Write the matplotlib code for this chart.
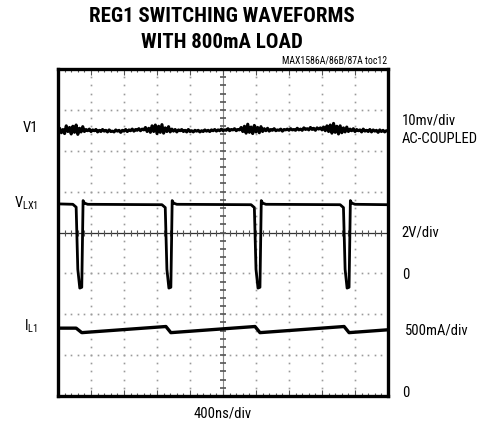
import numpy as np
import matplotlib
matplotlib.use("Agg")
import matplotlib.pyplot as plt

# ---------------- data (in screen divisions: x 0..10, y 0..8) ----------------
title_lines = ["REG1 SWITCHING WAVEFORMS", "WITH 800mA LOAD"]
part_label = "MAX1586A/86B/87A toc12"
x_label = "400ns/div"
left_labels = ["V1", "V$_{\\mathregular{LX1}}$", "I$_{\\mathregular{L1}}$"]
left_label_y = [6.55, 4.72, 1.72]
right_labels = ["10mv/div", "AC-COUPLED", "2V/div", "0", "500mA/div", "0"]
right_label_x = [10.42, 10.42, 10.42, 10.42, 10.5, 10.42]
right_label_y = [6.75, 6.28, 4.0, 2.97, 1.6, 0.08]

v1_x = np.linspace(0, 10, 201)
v1_y = [6.47, 6.55, 6.44, 6.52, 6.42, 6.61, 6.47, 6.57, 6.41, 6.60,
        6.45, 6.63, 6.40, 6.55, 6.46, 6.59, 6.47, 6.52, 6.49, 6.53,
        6.47, 6.51, 6.49, 6.52, 6.46, 6.50, 6.47, 6.52, 6.48, 6.50,
        6.46, 6.51, 6.47, 6.48, 6.46, 6.51, 6.48, 6.50, 6.45, 6.50,
        6.48, 6.52, 6.47, 6.51, 6.49, 6.53, 6.48, 6.52, 6.50, 6.54,
        6.49, 6.53, 6.51, 6.57, 6.47, 6.55, 6.45, 6.61, 6.47, 6.63,
        6.42, 6.60, 6.45, 6.64, 6.43, 6.56, 6.47, 6.59, 6.46, 6.53,
        6.48, 6.52, 6.46, 6.51, 6.49, 6.52, 6.47, 6.50, 6.46, 6.52,
        6.47, 6.49, 6.46, 6.50, 6.48, 6.50, 6.46, 6.49, 6.47, 6.51,
        6.48, 6.50, 6.47, 6.51, 6.49, 6.52, 6.48, 6.51, 6.49, 6.53,
        6.49, 6.51, 6.50, 6.54, 6.49, 6.52, 6.51, 6.54, 6.49, 6.52,
        6.51, 6.57, 6.47, 6.60, 6.43, 6.65, 6.45, 6.58, 6.42, 6.62,
        6.46, 6.57, 6.44, 6.59, 6.47, 6.54, 6.49, 6.55, 6.48, 6.52,
        6.50, 6.54, 6.49, 6.51, 6.50, 6.53, 6.48, 6.52, 6.51, 6.53,
        6.50, 6.54, 6.51, 6.52, 6.50, 6.55, 6.51, 6.53, 6.50, 6.56,
        6.52, 6.54, 6.51, 6.57, 6.52, 6.55, 6.50, 6.56, 6.53, 6.56,
        6.51, 6.58, 6.49, 6.61, 6.47, 6.63, 6.43, 6.67, 6.45, 6.60,
        6.41, 6.61, 6.44, 6.56, 6.46, 6.58, 6.47, 6.53, 6.49, 6.54,
        6.47, 6.52, 6.49, 6.51, 6.46, 6.53, 6.48, 6.50, 6.47, 6.52,
        6.46, 6.51, 6.48, 6.50, 6.45, 6.51, 6.47, 6.50, 6.46, 6.49, 6.48]

# VLX1 (2V/div, zero at div 3): switching node
vlx_x = [0.00, 0.45, 0.55, 0.60, 0.66, 0.72, 0.76, 0.80, 0.90, 3.15, 3.25,
         3.30, 3.36, 3.42, 3.46, 3.50, 3.60, 5.85, 5.95, 6.00, 6.06, 6.12,
         6.16, 6.20, 6.30, 8.55, 8.65, 8.70, 8.76, 8.82, 8.86, 8.90, 9.00, 10.0]
vlx_y = [4.70, 4.69, 4.62, 3.10, 2.64, 2.66, 4.78, 4.72, 4.69, 4.68, 4.61,
         3.10, 2.64, 2.66, 4.78, 4.72, 4.69, 4.68, 4.61,
         3.10, 2.64, 2.66, 4.78, 4.72, 4.69, 4.68, 4.61,
         3.10, 2.64, 2.66, 4.78, 4.72, 4.69, 4.68]

# IL1 (500mA/div, zero at div 0): inductor current
il_x = [0.00, 0.55, 0.72, 3.27, 3.42, 5.97, 6.12, 8.67, 8.82, 10.0]
il_y = [1.66, 1.66, 1.55, 1.70, 1.55, 1.70, 1.55, 1.70, 1.55, 1.62]

# ---------------- figure ----------------
W, H = 493, 429
fig = plt.figure(figsize=(W / 100, H / 100), dpi=100)
ax = fig.add_axes([58 / W, 1 - 396 / H, 330 / W, 327 / H])
ax.set_xlim(0, 10)
ax.set_ylim(0, 8)

font = ["Roboto Condensed", "DejaVu Sans"]
grey = "#9a9a9a"

# dotted graticule
sub = np.arange(0, 10.001, 0.2)
subv = np.arange(0, 8.001, 0.2)
for gx in range(1, 10):
    if gx == 5:
        continue
    ax.plot(np.full_like(subv, gx), subv, ls="none", marker="s", ms=1.2,
            mfc=grey, mec="none", zorder=1)
for gy in range(1, 8):
    if gy == 4:
        continue
    ax.plot(sub, np.full_like(sub, gy), ls="none", marker="s", ms=1.2,
            mfc=grey, mec="none", zorder=1)

# centre cross with ticks
ax.axhline(4, color="#333333", lw=0.9, zorder=1)
ax.axvline(5, color="#8a8a8a", lw=0.8, zorder=1)
ax.plot(sub, np.full_like(sub, 4), ls="none", marker="|", ms=4, mew=0.8,
        color="#555555", zorder=1)
ax.plot(np.full_like(subv, 5), subv, ls="none", marker="_", ms=4.5, mew=1.2,
        color="#555555", zorder=1)

# traces
ax.plot(v1_x, v1_y, color="black", lw=2.2, zorder=3)
ax.plot(vlx_x, vlx_y, color="black", lw=2.0, zorder=3)
ax.plot(il_x, il_y, color="black", lw=2.4, zorder=3)

# frame and ticks
for s in ax.spines.values():
    s.set_linewidth(2.4)
    s.set_color("black")
ax.set_xticks(range(0, 11))
ax.set_xticks(sub, minor=True)
ax.set_yticks([])
ax.tick_params(axis="x", which="major", direction="in", length=4, width=0.8,
               top=True, bottom=True, labelbottom=False, color="#555555")
ax.tick_params(axis="x", which="minor", direction="in", length=2, width=0.8,
               top=True, bottom=True, color="#555555")

# texts
fig.text(222 / W, 1 - 17 / H, title_lines[0], ha="center", va="center",
         fontsize=15, fontweight="bold", family=font)
fig.text(222 / W, 1 - 43 / H, title_lines[1], ha="center", va="center",
         fontsize=15, fontweight="bold", family=font)
fig.text(387 / W, 1 - 61 / H, part_label, ha="right", va="center",
         fontsize=7, family=font)
fig.text(223 / W, 1 - 413 / H, x_label, ha="center", va="center",
         fontsize=10.5, family=font)

for lab, yv in zip(left_labels, left_label_y):
    ax.text(-0.6, yv, lab, ha="right", va="center", fontsize=10.5,
            family=font, transform=ax.transData, clip_on=False)
for lab, xv, yv in zip(right_labels, right_label_x, right_label_y):
    ax.text(xv, yv, lab, ha="left", va="center", fontsize=10.5,
            family=font, transform=ax.transData, clip_on=False)

fig.savefig("out.png", dpi=100)
